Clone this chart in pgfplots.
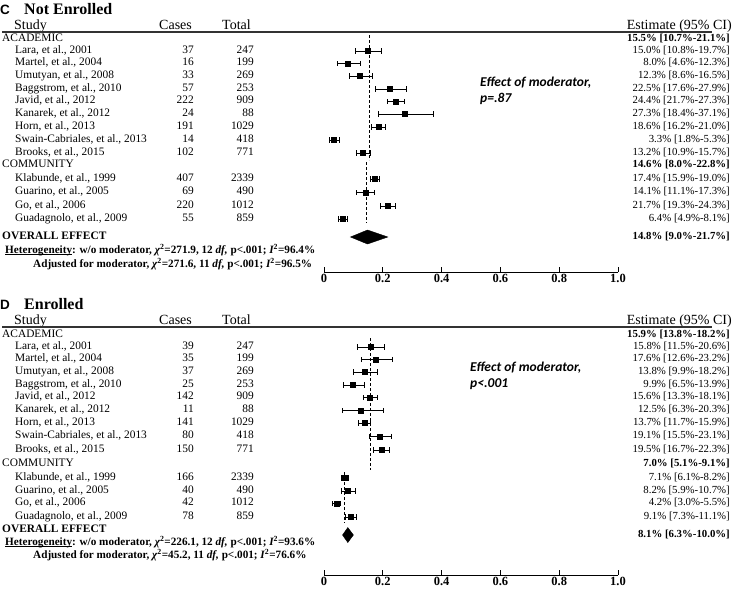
\documentclass[border=0pt]{standalone}
\usepackage{fontspec}
\setmainfont{Liberation Serif}
\newfontfamily\arialf{Liberation Sans}
\newfontfamily\carlito{Carlito}
\usepackage{pgfplots}
\usepackage{pgfplotstable}
\pgfplotsset{compat=1.18}

% Not Enrolled: row position (px from top), estimate, lower, upper
\pgfplotstableread{
y est lo hi
51 0.150 0.108 0.197
63.5 0.080 0.046 0.123
76 0.123 0.086 0.165
89 0.225 0.176 0.279
101.5 0.244 0.217 0.273
114 0.273 0.184 0.371
127 0.186 0.162 0.210
140 0.033 0.018 0.053
153 0.132 0.109 0.157
179 0.174 0.159 0.190
192.5 0.141 0.111 0.173
206 0.217 0.193 0.243
219 0.064 0.049 0.081
}\dataC

% Enrolled
\pgfplotstableread{
y est lo hi
347 0.158 0.115 0.206
359.5 0.176 0.126 0.232
372 0.138 0.099 0.182
385 0.099 0.065 0.139
397.5 0.156 0.133 0.181
410.5 0.125 0.063 0.203
423 0.137 0.117 0.159
436.5 0.191 0.155 0.231
450 0.195 0.167 0.223
478 0.071 0.061 0.082
491 0.082 0.059 0.107
503.5 0.042 0.030 0.055
517 0.091 0.073 0.111
}\dataD

\newcommand{\rf}{\fontsize{11.4}{13}\selectfont}
\newcommand{\ef}{\fontsize{10.8}{13}\selectfont}
\newcommand{\hf}{\fontsize{14}{16}\selectfont}
\newcommand{\tf}{\fontsize{11.2}{13}\selectfont}

\newcommand{\study}[5]{%
 \node[anchor=mid west,font=\rf,inner sep=0pt] at (15pt,-#1pt) {#2};
 \node[anchor=mid east,font=\rf,inner sep=0pt] at (194pt,-#1pt) {#3};
 \node[anchor=mid east,font=\rf,inner sep=0pt] at (254pt,-#1pt) {#4};
 \node[anchor=mid east,font=\ef,inner sep=0pt] at (730pt,-#1pt) {#5};}
\newcommand{\group}[3]{%
 \node[anchor=mid west,font=\rf,inner sep=0pt] at (2pt,-#1pt) {#2};
 \node[anchor=mid east,font=\ef\bfseries,inner sep=0pt] at (730pt,-#1pt) {#3};}
\newcommand{\chisq}{{\itshape χ}\textsuperscript{2}}
\newcommand{\Isq}{{\itshape I}\textsuperscript{2}}
\newsavebox{\ulbox}
\newcommand{\ul}[1]{\sbox{\ulbox}{#1}\rlap{\rule[-1.4pt]{\wd\ulbox}{0.7pt}}\usebox{\ulbox}}

\pgfplotsset{
 forest/.style={
  scale only axis, width=294pt, xmin=0, xmax=1, clip=false,
  axis x line*=bottom, axis y line=none,
  xtick={0,0.2,0.4,0.6,0.8,1}, xticklabels={0,0.2,0.4,0.6,0.8,1.0},
  tick align=inside, major tick length=5pt,
  tick style={line width=1pt, black},
  axis line style={line width=1pt, black},
  xticklabel style={font=\bfseries\fontsize{12.5}{14}\selectfont, inner sep=1pt, yshift=-1pt},
 },
 pts/.style={only marks, mark=square*, mark size=2.5pt, black,
  error bars/.cd, x dir=both, x explicit, error mark=|,
  error bar style={line width=0.9pt, black},
  error mark options={mark size=2.6pt, line width=0.9pt, black}},
 ddash/.style={dash pattern=on 3pt off 2pt, line width=0.9pt, black},
}

\begin{document}
\begin{tikzpicture}
\useasboundingbox (0,0) rectangle (733pt,-589pt);

% ---------------- Panel C ----------------
\begin{axis}[forest, at={(324pt,-272pt)}, anchor=south west, height=272pt, ymin=-272, ymax=0]
 \addplot[ddash] coordinates {(0.155,-35) (0.155,-160)};
 \addplot[ddash] coordinates {(0.146,-162) (0.146,-223)};
 \addplot[pts] table[x=est, y expr=-\thisrow{y}, x error plus expr=\thisrow{hi}-\thisrow{est}, x error minus expr=\thisrow{est}-\thisrow{lo}] {\dataC};
 \addplot[fill=black, draw=black] coordinates {(0.090,-237) (0.148,-230) (0.217,-237) (0.148,-244)} -- cycle;
\end{axis}

\node[anchor=base west, inner sep=0pt, font=\arialf\bfseries\fontsize{13.5}{15}\selectfont] at (0pt,-14pt) {C};
\node[anchor=base west, inner sep=0pt, font=\bfseries\fontsize{16}{18}\selectfont] at (24pt,-14pt) {Not Enrolled};
\node[anchor=base west, inner sep=0pt, font=\hf] at (14pt,-29pt) {Study};
\node[anchor=base west, inner sep=0pt, font=\hf] at (159pt,-29pt) {Cases};
\node[anchor=base west, inner sep=0pt, font=\hf] at (222pt,-29pt) {Total};
\node[anchor=base east, inner sep=0pt, font=\hf] at (732pt,-29pt) {Estimate (95\% CI)};
\draw[line width=1.4pt, black!80] (2pt,-32pt) -- (712pt,-32pt);

\group{39.5}{ACADEMIC}{15.5\% [10.7\%-21.1\%]}
\study{51}{Lara, et al., 2001}{37}{247}{15.0\% [10.8\%-19.7\%]}
\study{63.5}{Martel, et al., 2004}{16}{199}{8.0\% [4.6\%-12.3\%]}
\study{76}{Umutyan, et al., 2008}{33}{269}{12.3\% [8.6\%-16.5\%]}
\study{89}{Baggstrom, et al., 2010}{57}{253}{22.5\% [17.6\%-27.9\%]}
\study{101.5}{Javid, et al., 2012}{222}{909}{24.4\% [21.7\%-27.3\%]}
\study{114}{Kanarek, et al., 2012}{24}{88}{27.3\% [18.4\%-37.1\%]}
\study{127}{Horn, et al., 2013}{191}{1029}{18.6\% [16.2\%-21.0\%]}
\study{140}{Swain-Cabriales, et al., 2013}{14}{418}{3.3\% [1.8\%-5.3\%]}
\study{153}{Brooks, et al., 2015}{102}{771}{13.2\% [10.9\%-15.7\%]}
\group{165.5}{COMMUNITY}{14.6\% [8.0\%-22.8\%]}
\study{179}{Klabunde, et al., 1999}{407}{2339}{17.4\% [15.9\%-19.0\%]}
\study{192.5}{Guarino, et al., 2005}{69}{490}{14.1\% [11.1\%-17.3\%]}
\study{206}{Go, et al., 2006}{220}{1012}{21.7\% [19.3\%-24.3\%]}
\study{219}{Guadagnolo, et al., 2009}{55}{859}{6.4\% [4.9\%-8.1\%]}
\node[anchor=mid west, inner sep=0pt, font=\rf\bfseries] at (2pt,-237pt) {OVERALL EFFECT};
\node[anchor=mid east, inner sep=0pt, font=\ef\bfseries] at (730pt,-237pt) {14.8\% [9.0\%-21.7\%]};
\node[anchor=mid west, inner sep=0pt, font=\tf\bfseries] at (5pt,-251pt) {\ul{Heterogeneity}: w/o moderator, \chisq=271.9, 12 \textit{df,} p<.001; \Isq=96.4\%};
\node[anchor=mid west, inner sep=0pt, font=\tf\bfseries] at (33pt,-265pt) {Adjusted for moderator, \chisq=271.6, 11 \textit{df,} p<.001; \Isq=96.5\%};
\node[anchor=north west, inner sep=0pt, align=left, font=\carlito\bfseries\itshape\fontsize{13.5}{16}\selectfont] at (480pt,-77pt) {Effect of moderator,\\p=.87};

% ---------------- Panel D ----------------
\begin{axis}[forest, at={(324pt,-575pt)}, anchor=south west, height=285pt, ymin=-575, ymax=-290]
 \addplot[ddash] coordinates {(0.159,-338) (0.159,-470)};
 \addplot[ddash] coordinates {(0.070,-472) (0.070,-523)};
 \addplot[pts] table[x=est, y expr=-\thisrow{y}, x error plus expr=\thisrow{hi}-\thisrow{est}, x error minus expr=\thisrow{est}-\thisrow{lo}] {\dataD};
 \addplot[fill=black, draw=black] coordinates {(0.063,-535) (0.081,-527.5) (0.100,-535) (0.081,-542.5)} -- cycle;
\end{axis}

\node[anchor=base west, inner sep=0pt, font=\arialf\bfseries\fontsize{13.5}{15}\selectfont] at (0pt,-309pt) {D};
\node[anchor=base west, inner sep=0pt, font=\bfseries\fontsize{16}{18}\selectfont] at (24pt,-309pt) {Enrolled};
\node[anchor=base west, inner sep=0pt, font=\hf] at (14pt,-324pt) {Study};
\node[anchor=base west, inner sep=0pt, font=\hf] at (159pt,-324pt) {Cases};
\node[anchor=base west, inner sep=0pt, font=\hf] at (222pt,-324pt) {Total};
\node[anchor=base east, inner sep=0pt, font=\hf] at (732pt,-324pt) {Estimate (95\% CI)};
\draw[line width=1.4pt, black!80] (2pt,-327pt) -- (712pt,-327pt);

\group{335}{ACADEMIC}{15.9\% [13.8\%-18.2\%]}
\study{347}{Lara, et al., 2001}{39}{247}{15.8\% [11.5\%-20.6\%]}
\study{359.5}{Martel, et al., 2004}{35}{199}{17.6\% [12.6\%-23.2\%]}
\study{372}{Umutyan, et al., 2008}{37}{269}{13.8\% [9.9\%-18.2\%]}
\study{385}{Baggstrom, et al., 2010}{25}{253}{9.9\% [6.5\%-13.9\%]}
\study{397.5}{Javid, et al., 2012}{142}{909}{15.6\% [13.3\%-18.1\%]}
\study{410.5}{Kanarek, et al., 2012}{11}{88}{12.5\% [6.3\%-20.3\%]}
\study{423}{Horn, et al., 2013}{141}{1029}{13.7\% [11.7\%-15.9\%]}
\study{436.5}{Swain-Cabriales, et al., 2013}{80}{418}{19.1\% [15.5\%-23.1\%]}
\study{450}{Brooks, et al., 2015}{150}{771}{19.5\% [16.7\%-22.3\%]}
\group{464}{COMMUNITY}{7.0\% [5.1\%-9.1\%]}
\study{478}{Klabunde, et al., 1999}{166}{2339}{7.1\% [6.1\%-8.2\%]}
\study{491}{Guarino, et al., 2005}{40}{490}{8.2\% [5.9\%-10.7\%]}
\study{503.5}{Go, et al., 2006}{42}{1012}{4.2\% [3.0\%-5.5\%]}
\study{517}{Guadagnolo, et al., 2009}{78}{859}{9.1\% [7.3\%-11.1\%]}
\node[anchor=mid west, inner sep=0pt, font=\rf\bfseries] at (2pt,-530pt) {OVERALL EFFECT};
\node[anchor=mid east, inner sep=0pt, font=\ef\bfseries] at (730pt,-535pt) {8.1\% [6.3\%-10.0\%]};
\node[anchor=mid west, inner sep=0pt, font=\tf\bfseries] at (5pt,-543pt) {\ul{Heterogeneity}: w/o moderator, \chisq=226.1, 12 \textit{df,} p<.001; \Isq=93.6\%};
\node[anchor=mid west, inner sep=0pt, font=\tf\bfseries] at (33pt,-556pt) {Adjusted for moderator, \chisq=45.2, 11 \textit{df,} p<.001; \Isq=76.6\%};
\node[anchor=north west, inner sep=0pt, align=left, font=\carlito\bfseries\itshape\fontsize{13.5}{16}\selectfont] at (470pt,-362pt) {Effect of moderator,\\p<.001};
\end{tikzpicture}
\end{document}
